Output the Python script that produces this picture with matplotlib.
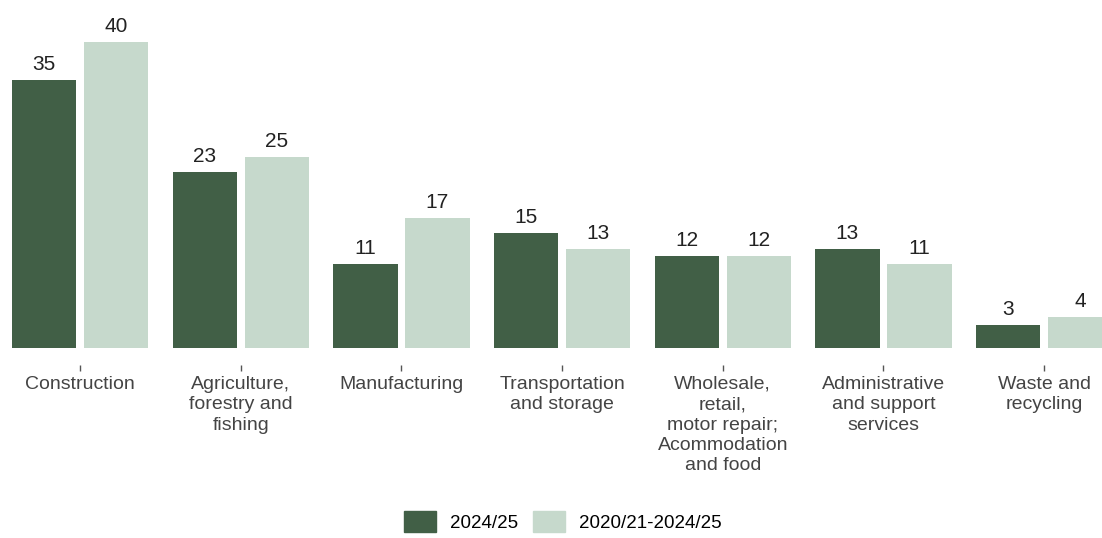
import numpy as np
import matplotlib.pyplot as plt
from matplotlib.patches import Patch

plt.rcParams['font.family'] = ['Liberation Sans', 'DejaVu Sans']

categories = ['Construction', 'Agriculture,\nforestry and\nfishing', 'Manufacturing',
              'Transportation\nand storage', 'Wholesale,\nretail,\nmotor repair;\nAcommodation\nand food',
              'Administrative\nand support\nservices', 'Waste and\nrecycling']
val_2024 = [35, 23, 11, 15, 12, 13, 3]
val_5yr = [40, 25, 17, 13, 12, 11, 4]
series_names = ['2024/25', '2020/21-2024/25']

dark = '#415f46'
light = '#c6d9cc'

fig = plt.figure(figsize=(11.02, 5.38), dpi=100)
ax = fig.add_axes([0, 0.353, 1, 0.647])
ax.spines['bottom'].set_position(('outward', 12))

x = np.arange(len(categories))
w = 0.40
off = 0.224
b1 = ax.bar(x - off, val_2024, w, color=dark)
b2 = ax.bar(x + off, val_5yr, w, color=light)

for bars, vals in [(b1, val_2024), (b2, val_5yr)]:
    for r, v in zip(bars, vals):
        ax.text(r.get_x() + r.get_width() / 2, v + 0.8, str(v), ha='center', va='bottom',
                fontsize=15, color='#222222')

ax.set_xlim(-0.498, 6.36)
ax.set_ylim(0, 45.5)
ax.set_xticks(x)
ax.set_xticklabels(categories, fontsize=14, color='#444444', linespacing=1.26)
ax.tick_params(axis='x', length=4, width=1, color='#555555', pad=4, direction='out')
ax.tick_params(axis='y', left=False, labelleft=False)
for s in ax.spines.values():
    s.set_visible(False)

handles = [Patch(color=dark), Patch(color=light)]
fig.legend(handles, series_names, loc='lower center', ncol=2, frameon=False,
           fontsize=13.5, bbox_to_anchor=(0.511, -0.02), handlelength=1.7, handleheight=1.35,
           columnspacing=0.8, handletextpad=0.75)

fig.savefig('out.png', dpi=100)
